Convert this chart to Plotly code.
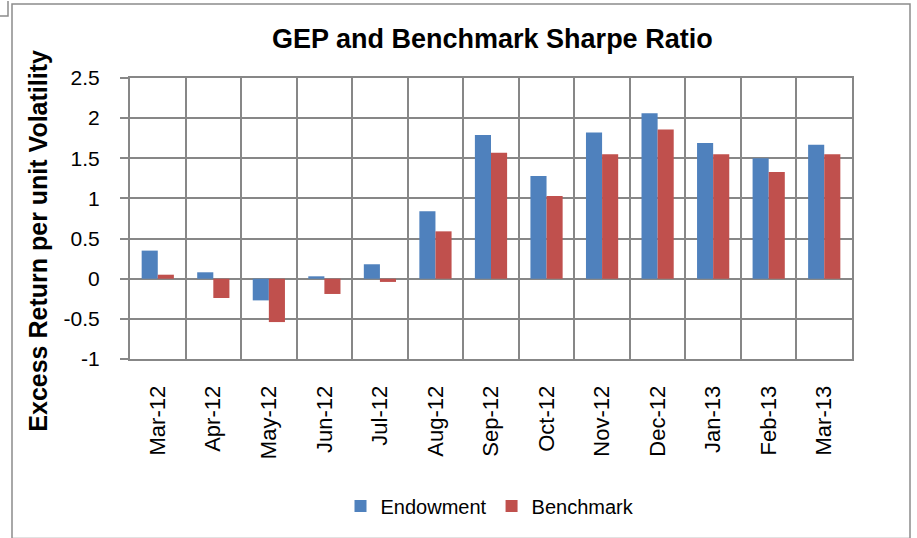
import plotly.graph_objects as go

# Monthly Sharpe ratios (excess return per unit volatility)
months = ["Mar-12", "Apr-12", "May-12", "Jun-12", "Jul-12", "Aug-12", "Sep-12",
          "Oct-12", "Nov-12", "Dec-12", "Jan-13", "Feb-13", "Mar-13"]
endowment = [0.35, 0.08, -0.27, 0.03, 0.18, 0.84, 1.79, 1.28, 1.82, 2.06, 1.69, 1.50, 1.67]
benchmark = [0.05, -0.24, -0.54, -0.19, -0.04, 0.59, 1.57, 1.03, 1.55, 1.86, 1.55, 1.33, 1.55]

y_ticks = [-1, -0.5, 0, 0.5, 1, 1.5, 2, 2.5]
y_tick_text = ["-1", "-0.5", "0", "0.5", "1", "1.5", "2", "2.5"]

FONT = "Liberation Sans, Arial, sans-serif"
GRID = "#878787"

# plot-area geometry in pixels (917 x 538 canvas)
L, R, T, B = 130, 852, 78, 363
W, H = R - L, B - T


def px(x):
    return (x - L) / W


def py(y):
    return (B - y) / H


xpos = list(range(len(months)))

fig = go.Figure()
fig.add_bar(x=xpos, y=endowment, name="Endowment", marker=dict(color="#4F81BD", line_width=0))
fig.add_bar(x=xpos, y=benchmark, name="Benchmark", marker=dict(color="#C0504D", line_width=0))

axis_line = dict(showline=True, linecolor=GRID, linewidth=2, mirror=True)

fig.update_layout(
    width=917, height=538,
    margin=dict(l=L, r=917 - R, t=T, b=538 - B),
    paper_bgcolor="white", plot_bgcolor="white",
    barmode="group", bargap=0.42, bargroupgap=0,
    font=dict(family=FONT, size=20, color="black"),
    showlegend=True,
    legend=dict(orientation="h", x=px(490), xanchor="center", y=py(512), yanchor="middle",
                font=dict(size=20), itemwidth=30, traceorder="normal"),
    xaxis=dict(
        range=[-0.5, len(months) - 0.5],
        tickmode="array", tickvals=xpos, ticktext=months,
        tickangle=-90, showgrid=False, zeroline=False,
        ticks="", tickfont=dict(size=22), ticklabelstandoff=16,
        minor=dict(tickmode="array",
                   tickvals=[i - 0.5 for i in range(len(months) + 1)],
                   showgrid=True, gridcolor=GRID, gridwidth=2, ticks=""),
        **axis_line,
    ),
    yaxis=dict(
        range=[-1, 2.5], tickmode="array", tickvals=y_ticks, ticktext=y_tick_text,
        showgrid=True, gridcolor=GRID, gridwidth=2,
        zeroline=False,
        ticks="outside", ticklen=8, tickcolor=GRID, tickwidth=2,
        tickfont=dict(size=21), ticklabelstandoff=16,
        **axis_line,
    ),
    annotations=[
        dict(text="<b>GEP and Benchmark Sharpe Ratio</b>", x=px(492), y=py(38),
             xref="paper", yref="paper", showarrow=False, xanchor="center", yanchor="middle",
             font=dict(size=27, family=FONT)),
        dict(text="<b>Excess Return per unit Volatility</b>", x=px(38), y=py(243),
             xref="paper", yref="paper", showarrow=False, xanchor="center", yanchor="middle",
             textangle=-90, font=dict(size=25, family=FONT)),
    ],
    shapes=[
        dict(type="rect", xref="paper", yref="paper",
             x0=px(12), x1=px(910), y0=py(545), y1=py(3),
             line=dict(color="#8c8c8c", width=1.5), layer="below"),
        dict(type="path", xref="paper", yref="paper",
             path=f"M {px(0)},{py(15)} L {px(8)},{py(15)} L {px(8)},{py(0)}",
             line=dict(color="#8c8c8c", width=1.5), layer="below"),
    ],
)

fig.write_html("out.html")
